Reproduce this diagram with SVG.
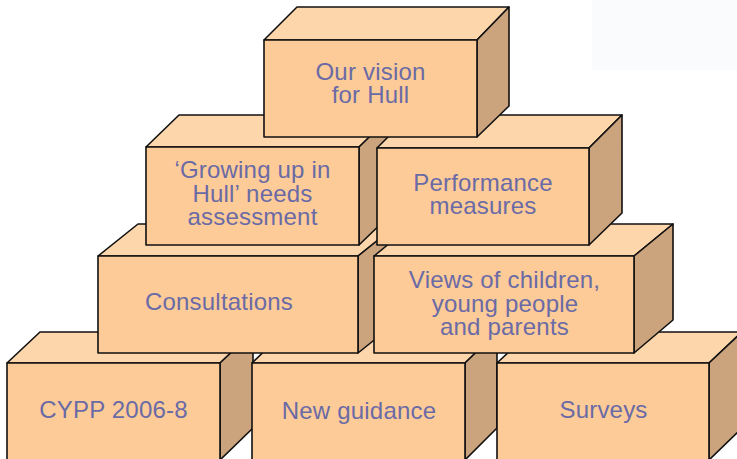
<svg xmlns="http://www.w3.org/2000/svg" width="737" height="459" viewBox="0 0 737 459">
  <style>
    .front { fill: #fdcb97; stroke: #111; stroke-width: 1.6; stroke-linejoin: round; }
    .top { fill: #fed6ab; stroke: #111; stroke-width: 1.6; stroke-linejoin: round; }
    .side { fill: #cba37c; stroke: #111; stroke-width: 1.6; stroke-linejoin: round; }
    .label { font-family: "Liberation Sans", Arial, Helvetica, sans-serif; font-size: 24px; letter-spacing: 0.2px; fill: #6a6aa6; text-anchor: middle; }
  </style>
  <rect width="737" height="459" fill="#ffffff"/>
  <!-- faint light patch in the upper right corner -->
  <rect x="592" y="0" width="145" height="70" fill="#fafbfc"/>

  <!-- bottom row -->
  <g id="box-cypp">
    <polygon class="top" points="7,363 40,332 253,332 220,363"/>
    <polygon class="side" points="220,363 253,332 253,428 220,460"/>
    <rect class="front" x="7" y="363" width="213" height="97"/>
    <text class="label" x="113.5" y="418">CYPP 2006-8</text>
  </g>
  <g id="box-guidance">
    <polygon class="top" points="252,363 284,332 497,332 465,363"/>
    <polygon class="side" points="465,363 497,332 497,428 465,460"/>
    <rect class="front" x="252" y="363" width="213" height="97"/>
    <text class="label" x="359" y="419">New guidance</text>
  </g>
  <g id="box-surveys">
    <polygon class="top" points="497,363 530,332 742,332 709,363"/>
    <polygon class="side" points="709,363 742,332 742,428 709,460"/>
    <rect class="front" x="497" y="363" width="212" height="97"/>
    <text class="label" x="603.5" y="418">Surveys</text>
  </g>

  <!-- middle row -->
  <g id="box-consultations">
    <polygon class="top" points="98,256 138,224 398,224 358,256"/>
    <polygon class="side" points="358,256 398,224 398,321 358,353"/>
    <rect class="front" x="98" y="256" width="260" height="97"/>
    <text class="label" x="219" y="310">Consultations</text>
  </g>
  <g id="box-views">
    <polygon class="top" points="374,256 413,224 673,224 634,256"/>
    <polygon class="side" points="634,256 673,224 673,320 634,353"/>
    <rect class="front" x="374" y="256" width="260" height="97"/>
    <text class="label" x="504.5" y="288">Views of children,</text>
    <text class="label" x="505" y="312">young people</text>
    <text class="label" x="504.5" y="335">and parents</text>
  </g>

  <!-- second row -->
  <g id="box-growing">
    <polygon class="top" points="146,147 179,115 392,115 359,147"/>
    <polygon class="side" points="359,147 392,115 392,213 359,245"/>
    <rect class="front" x="146" y="147" width="213" height="98"/>
    <text class="label" x="252.5" y="178">‘Growing up in</text>
    <text class="label" x="252.5" y="202">Hull’ needs</text>
    <text class="label" x="252.5" y="225">assessment</text>
  </g>
  <g id="box-performance">
    <polygon class="top" points="377,148 410,115 622,115 589,148"/>
    <polygon class="side" points="589,148 622,115 622,213 589,245"/>
    <rect class="front" x="377" y="148" width="212" height="97"/>
    <text class="label" x="483" y="191">Performance</text>
    <text class="label" x="483" y="214">measures</text>
  </g>

  <!-- top -->
  <g id="box-vision">
    <polygon class="top" points="264,40 297,7 509,7 477,40"/>
    <polygon class="side" points="477,40 509,7 509,106 477,137"/>
    <rect class="front" x="264" y="40" width="213" height="97"/>
    <text class="label" x="370.5" y="80">Our vision</text>
    <text class="label" x="370.5" y="103">for Hull</text>
  </g>
</svg>
